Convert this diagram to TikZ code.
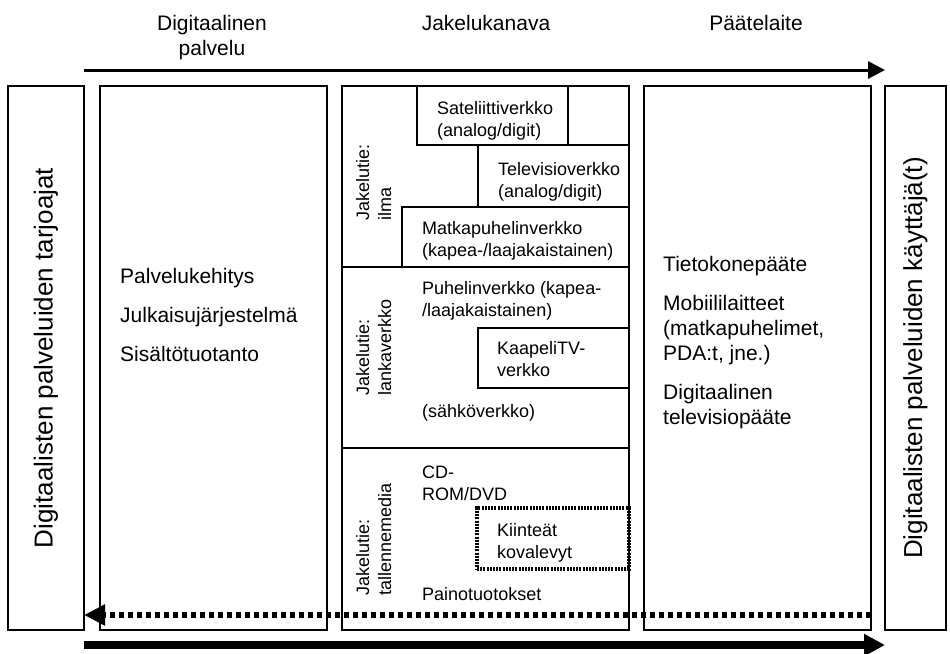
\documentclass[tikz,border=0pt]{standalone}
\usepackage{fontspec}
\setmainfont{Liberation Sans}
\usetikzlibrary{arrows.meta}

\tikzset{Box/.style={draw,line width=1.6pt,inner sep=0pt,outer sep=0pt,anchor=north west},
         Txt/.style={anchor=base west,inner sep=0pt,align=left,font=\fontsize{21}{25}\selectfont},
         SmallTxt/.style={anchor=base west,inner sep=0pt,align=left,font=\fontsize{18}{22}\selectfont},
         Head/.style={anchor=base,inner sep=0pt,align=center,font=\fontsize{21}{25}\selectfont},
         Via/.style={rotate=90,anchor=north west,inner sep=0pt,align=left,font=\fontsize{18}{22}\selectfont},
         Side/.style={rotate=90,inner sep=0pt,font=\fontsize{26}{30}\selectfont}}

\begin{document}
\begin{tikzpicture}[x=1pt,y=-1pt]
            \useasboundingbox (0,0) rectangle (950,653);

            % base = baseline of the last line
            \node[Head] (hpalvelu) at (212,55) {Digitaalinen\\palvelu};
            \node[Head] (hkanava) at (486,30) {Jakelukanava};
            \node[Head] (hlaite) at (756,30) {Päätelaite};

            \node[Box,minimum width=76,minimum height=544] (tarjoajat) at (8,86) {};
            \node[Box,minimum width=227,minimum height=544] (palvelu) at (100,86) {};
            \node[Box,minimum width=287,minimum height=544] (kanava) at (342,86) {};
            \node[Box,minimum width=227,minimum height=544] (laite) at (644,86) {};
            \node[Box,minimum width=61,minimum height=544] (kayttajat) at (885,86) {};

            \node[Side] (ttarjoajat) at (tarjoajat.center) {Digitaalisten palveluiden tarjoajat};
            \node[Side] (tkayttajat) at (kayttajat.center) {Digitaalisten palveluiden käyttäjä(t)};

            \node[Txt] (kehitys) at (120,283) {Palvelukehitys};
            \node[Txt] (julkaisu) at (120,322) {Julkaisujärjestelmä};
            \node[Txt] (sisalto) at (120,361) {Sisältötuotanto};

            \node[Txt] (tietokone) at (663,271) {Tietokonepääte};
            \node[Txt] (mobiili) at (663,360) {Mobiililaitteet\\(matkapuhelimet,\\PDA:t, jne.)};
            \node[Txt] (digitv) at (663,424) {Digitaalinen\\televisiopääte};

            % jakelutiet
            \node[Box,minimum width=287,minimum height=181] (lanka) at (342,267) {};
            \node[Box,minimum width=151,minimum height=59] (sateliitti) at (417,86) {};
            \node[Box,minimum width=151,minimum height=62] (televisio) at (478,145) {};
            \node[Box,minimum width=227,minimum height=60] (matka) at (402,207) {};
            \node[Box,minimum width=151,minimum height=60] (kaapeli) at (478,328) {};
            \node[Box,minimum width=152,minimum height=61,line width=3.2pt,dash pattern=on 2pt off 1.2pt] (kiintea) at (477,508) {};

            \node[SmallTxt] (tsateliitti) at (437,136) {Sateliittiverkko\\(analog/digit)};
            \node[SmallTxt] (ttelevisio) at (498,197) {Televisioverkko\\(analog/digit)};
            \node[SmallTxt] (tmatka) at (422,256) {Matkapuhelinverkko\\(kapea-/laajakaistainen)};
            \node[SmallTxt] (tpuhelin) at (422,316) {Puhelinverkko (kapea-\\/laajakaistainen)};
            \node[SmallTxt] (tkaapeli) at (497,376) {KaapeliTV-\\verkko};
            \node[SmallTxt] (tsahko) at (422,417) {(sähköverkko)};
            \node[SmallTxt] (tcd) at (422,500) {CD-\\ROM/DVD};
            \node[SmallTxt] (tkiintea) at (497,558) {Kiinteät\\kovalevyt};
            \node[SmallTxt] (tpaino) at (422,600) {Painotuotokset};

            \node[Via] (vilma) at (356,221) {Jakelutie:\\ilma};
            \node[Via] (vlanka) at (356,396) {Jakelutie:\\lankaverkko};
            \node[Via] (vmedia) at (356,596) {Jakelutie:\\tallennemedia};

            % nuolet
            \coordinate (ylin) at (0,70);
            \coordinate (paluu) at (0,615);
            \coordinate (alin) at (0,645);
            \draw[line width=3pt,-{Triangle[length=17pt,width=17pt]}] (tarjoajat.east |- ylin) -- (kayttajat.west |- ylin);
            \draw[line width=7.5pt,-{Triangle[length=21pt,width=21pt]}] (tarjoajat.east |- alin) -- (kayttajat.west |- alin);
            \draw[line width=6pt,dash pattern=on 5.5pt off 3.5pt,-{Triangle[length=21pt,width=20pt]}] (laite.east |- paluu) -- (tarjoajat.east |- paluu);
\end{tikzpicture}
\end{document}
